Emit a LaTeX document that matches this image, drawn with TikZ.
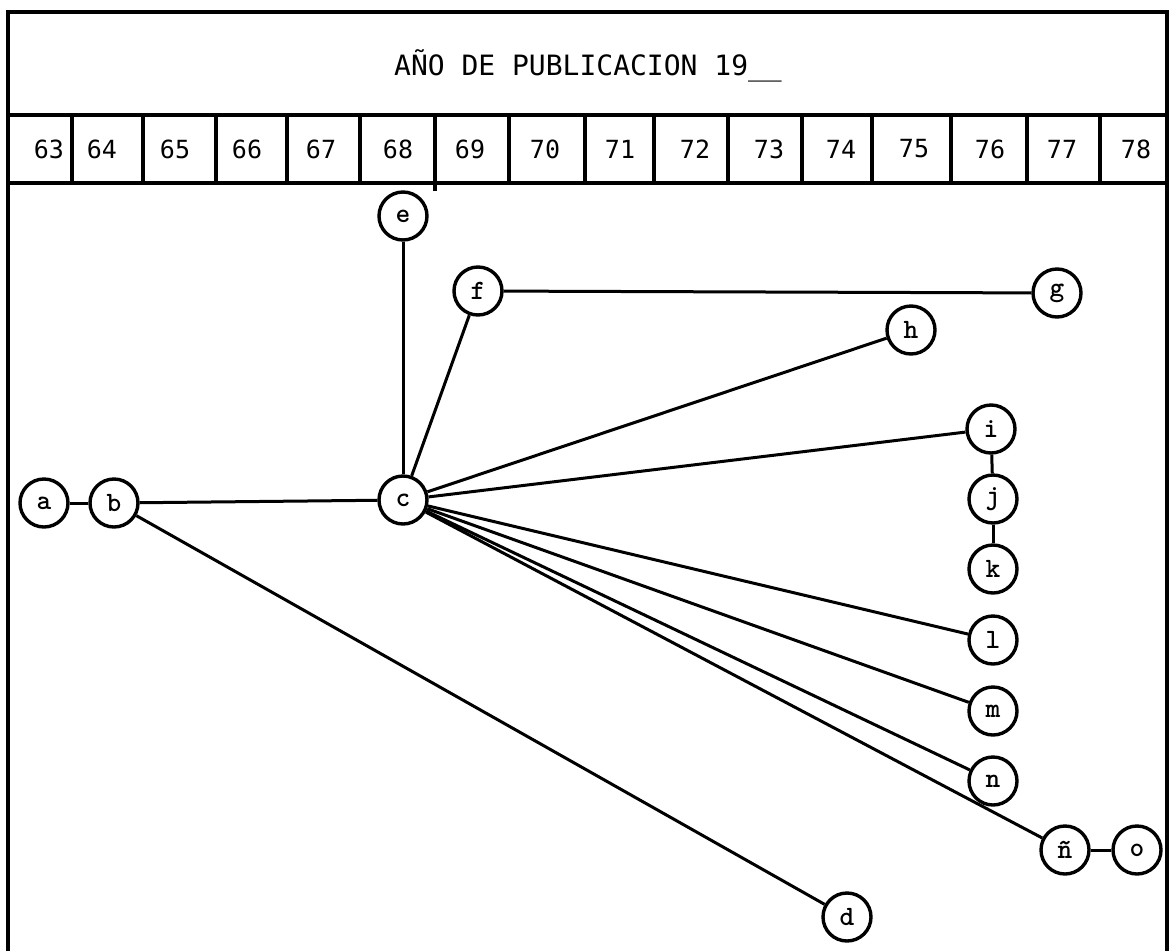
\documentclass[tikz,border=0pt]{standalone}
\usepackage{fontspec}
\newfontfamily\hdrfont{DejaVu Sans Mono}
\begin{document}
\begin{tikzpicture}[x=1pt,y=-1pt,
  frame/.style={line width=3.2pt},
  vtx/.style={circle,draw,line width=3.4pt,minimum size=48pt,inner sep=0pt,
    font=\ttfamily\bfseries\fontsize{28}{28}\selectfont},
  edge/.style={line width=3pt},
  yearlbl/.style={font=\hdrfont\fontsize{25}{25}\selectfont,inner sep=0pt},
]
\useasboundingbox (0,0) rectangle (1170,951);
% outer frame (open at the bottom)
\draw[frame] (8,951) -- (8,12) -- (1167,12) -- (1167,951);
\draw[frame] (8,115) -- (1167,115);
\draw[frame] (8,183) -- (1167,183);
% title
\node[font=\hdrfont\fontsize{28}{28}\selectfont,inner sep=0pt] (title) at (588,66) {AÑO DE PUBLICACION 19\_\_};
% year cells
\foreach \x in {72,143,216,287,360,509,585,654,728,802,872,951,1027,1100}
  \draw[frame] (\x,115) -- (\x,183);
\draw[frame] (435,115) -- (435,191);
\foreach \yr/\x in {63/49,64/102,65/175,66/247,67/321,68/398,69/470,70/545,
  71/620,72/695,73/769,74/841,75/914,76/990,77/1062,78/1136}
  \node[yearlbl] (y\yr) at (\x,149) {\yr};
% nodes
\node[vtx] (a) at (44,503) {a};
\node[vtx] (b) at (114,503) {b};
\node[vtx] (c) at (403,500) {c};
\node[vtx] (e) at (403,216) {e};
\node[vtx] (f) at (478,291) {f};
\node[vtx] (g) at (1057,293) {g};
\node[vtx] (h) at (911,330) {h};
\node[vtx] (i) at (991,429) {i};
\node[vtx] (j) at (993,499) {j};
\node[vtx] (k) at (993,569) {k};
\node[vtx] (l) at (993,640) {l};
\node[vtx] (m) at (993,711) {m};
\node[vtx] (n) at (993,781) {n};
\node[vtx] (nn) at (1065,850) {ñ};
\node[vtx] (o) at (1137,850) {o};
\node[vtx] (d) at (847,917) {d};
% connectors
\draw[edge] (a) -- (b);
\draw[edge] (b) -- (c);
\draw[edge] (b) -- (d);
\draw[edge] (c) -- (e);
\draw[edge] (c) -- (f);
\draw[edge] (f) -- (g);
\draw[edge] (c) -- (h);
\draw[edge] (c) -- (i);
\draw[edge] (i) -- (j);
\draw[edge] (j) -- (k);
\draw[edge] (c) -- (l);
\draw[edge] (c) -- (m);
\draw[edge] (c) -- (n);
\draw[edge] (c) -- (nn);
\draw[edge] (nn) -- (o);
\end{tikzpicture}
\end{document}
